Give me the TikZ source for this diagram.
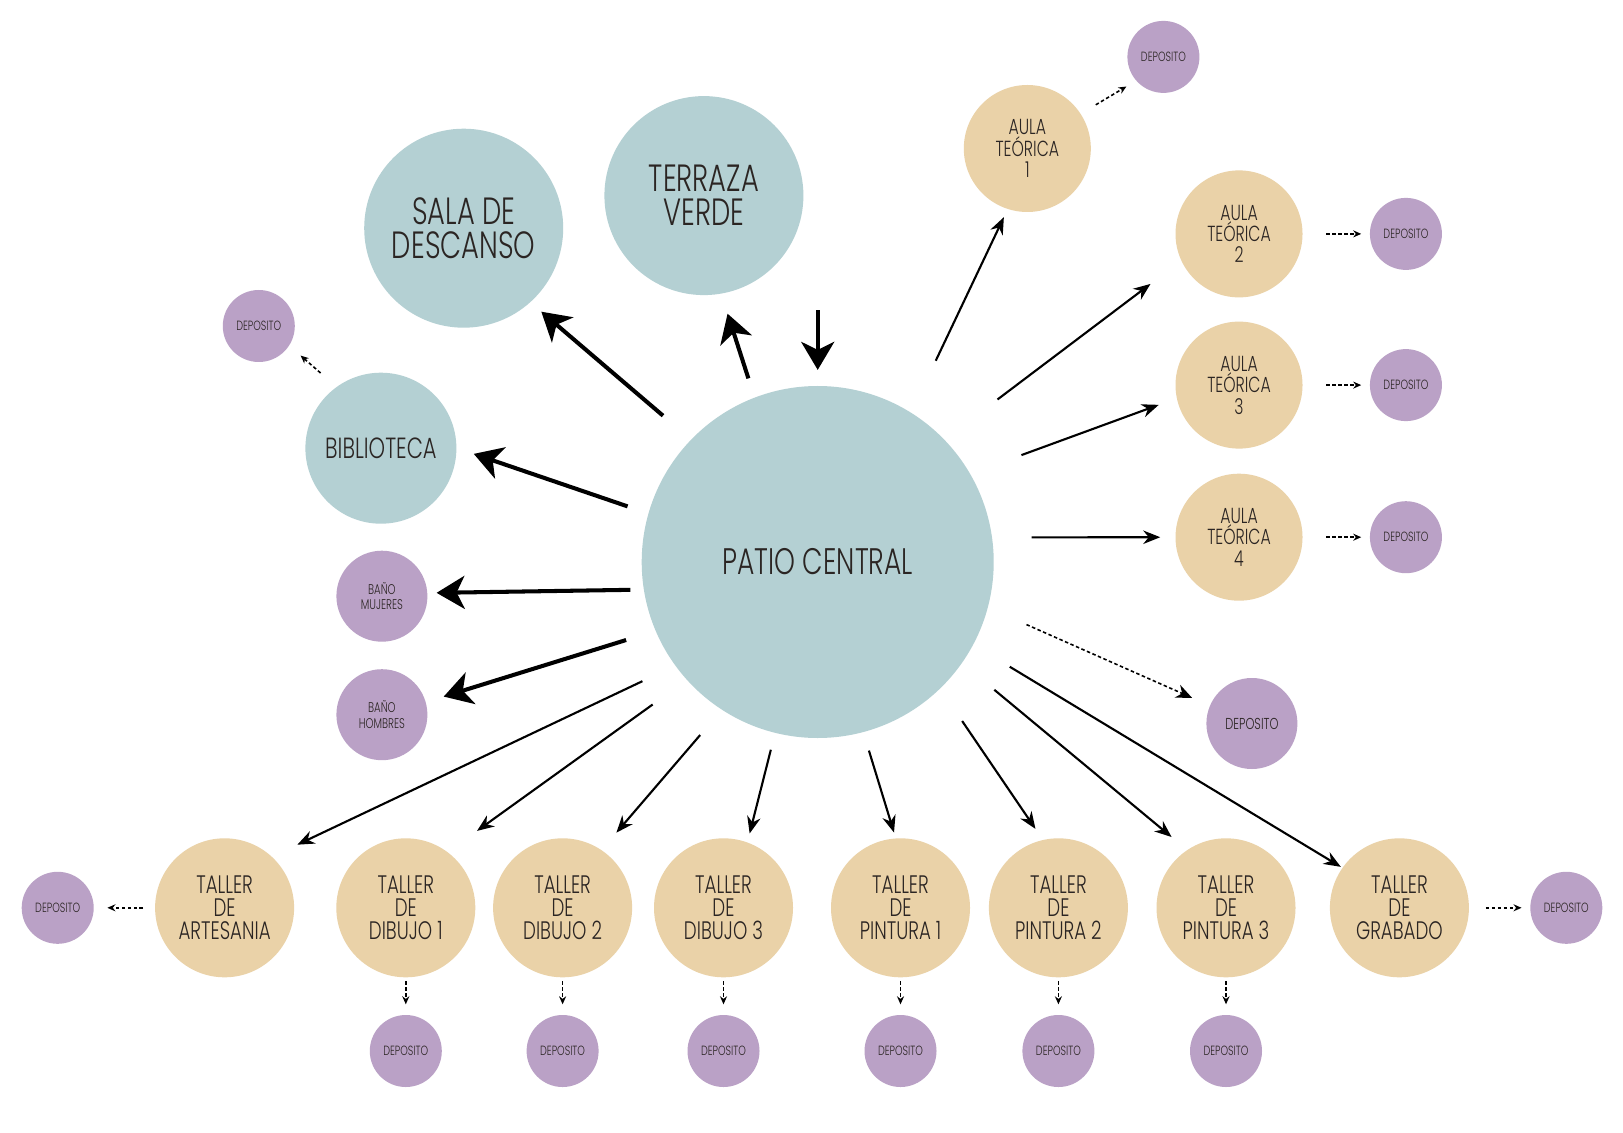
\documentclass[tikz,border=0pt]{standalone}
\usepackage{fontspec}
\setmainfont{Poppins}[FakeStretch=0.72, UprightFont=* Light]
\usepackage{tikz}
\usetikzlibrary{arrows.meta,positioning}
\definecolor{PatioTeal}{HTML}{B4D0D3}
\definecolor{PatioSand}{HTML}{EAD2A8}
\definecolor{PatioLilac}{HTML}{BAA1C6}
\definecolor{PatioInk}{HTML}{2B2523}

\begin{document}
\begin{tikzpicture}[
  every node/.style={text=PatioInk},
  espacio/.style={circle, fill=#1, inner sep=0pt, align=center},
  grande/.style={espacio=PatioTeal, minimum size=1.99cm, font=\fontsize{10.8}{9.7}\selectfont},
  aula/.style={espacio=PatioSand, minimum size=1.27cm, font=\fontsize{6.2}{6.1}\selectfont},
  taller/.style={espacio=PatioSand, minimum size=1.39cm, font=\fontsize{7.2}{6.6}\selectfont},
  deposito/.style={espacio=PatioLilac, minimum size=0.72cm, font=\fontsize{3.8}{4}\selectfont},
  bano/.style={espacio=PatioLilac, minimum size=0.91cm, font=\fontsize{4}{4.5}\selectfont},
  flecha/.style={-{Stealth[length=2.8mm, width=3.3mm, inset=0.8mm]}, line width=1.15pt},
  via/.style={-{Stealth[length=1.7mm, width=1.35mm]}, line width=0.6pt},
  guarda/.style={-{Stealth[length=0.8mm, width=0.7mm]}, line width=0.45pt, dash pattern=on 0.035cm off 0.025cm}
]
\fill[white] (0,0) rectangle (16.23,-11.32);

% centro
\node[espacio=PatioTeal, minimum size=3.52cm, font=\fontsize{10.5}{12}\selectfont] (patio) at (8.177,-5.620) {PATIO CENTRAL};
\coordinate (entrada) at (8.177,-3.105);

% lado izquierdo
\node[grande] (sala) at (4.637,-2.282) {SALA DE\\DESCANSO};
\node[grande] (terraza) at (7.039,-1.956) {TERRAZA\\VERDE};
\node[espacio=PatioTeal, minimum size=1.51cm, font=\fontsize{8.3}{8}\selectfont] (biblio) at (3.809,-4.482) {BIBLIOTECA};
\node[deposito] (depBiblio) at (2.588,-3.260) {DEPOSITO};
\node[bano] (banoM) at (3.819,-5.962) {BAÑO\\MUJERES};
\node[bano] (banoH) at (3.819,-7.147) {BAÑO\\HOMBRES};

% aulas
\node[aula] (aula1) at (10.273,-1.485) {AULA\\TEÓRICA\\1};
\node[deposito] (depAula1) at (11.634,-0.569) {DEPOSITO};
\node[aula] (aula2) at (12.390,-2.339) {AULA\\TEÓRICA\\2};
\node[deposito, right=0.66cm of aula2] (depAula2) {DEPOSITO};
\node[aula] (aula3) at (12.390,-3.851) {AULA\\TEÓRICA\\3};
\node[deposito, right=0.66cm of aula3] (depAula3) {DEPOSITO};
\node[aula] (aula4) at (12.390,-5.372) {AULA\\TEÓRICA\\4};
\node[deposito, right=0.66cm of aula4] (depAula4) {DEPOSITO};
\node[bano, font=\fontsize{4.5}{5}\selectfont] (depPatio) at (12.519,-7.235) {DEPOSITO};

% talleres
\node[taller] (artesania) at (2.246,-9.078) {TALLER\\DE\\ARTESANIA};
\node[taller] (dibujo1) at (4.058,-9.078) {TALLER\\DE\\DIBUJO 1};
\node[taller] (dibujo2) at (5.626,-9.078) {TALLER\\DE\\DIBUJO 2};
\node[taller] (dibujo3) at (7.235,-9.078) {TALLER\\DE\\DIBUJO 3};
\node[taller] (pintura1) at (9.005,-9.078) {TALLER\\DE\\PINTURA 1};
\node[taller] (pintura2) at (10.584,-9.078) {TALLER\\DE\\PINTURA 2};
\node[taller] (pintura3) at (12.260,-9.078) {TALLER\\DE\\PINTURA 3};
\node[taller] (grabado) at (13.994,-9.078) {TALLER\\DE\\GRABADO};
\node[deposito, left=0.60cm of artesania] (depArtesania) {DEPOSITO};
\node[deposito, right=0.60cm of grabado] (depGrabado) {DEPOSITO};
\node[deposito, below=0.363cm of dibujo1] (depDibujo1) {DEPOSITO};
\node[deposito, below=0.363cm of dibujo2] (depDibujo2) {DEPOSITO};
\node[deposito, below=0.363cm of dibujo3] (depDibujo3) {DEPOSITO};
\node[deposito, below=0.363cm of pintura1] (depPintura1) {DEPOSITO};
\node[deposito, below=0.363cm of pintura2] (depPintura2) {DEPOSITO};
\node[deposito, below=0.363cm of pintura3] (depPintura3) {DEPOSITO};

% flechas gruesas
\draw[flecha, shorten <=0.363cm, shorten >=0.139cm] (patio.136.6) -- (sala.-48.9);
\draw[flecha, shorten <=0.196cm, shorten >=0.204cm] (patio.111.4) -- (terraza.-80.1);
\draw[flecha, shorten >=0.154cm] (entrada) -- (patio.north);
\draw[flecha, shorten <=0.214cm, shorten >=0.176cm] (patio.164.8) -- (biblio.0);
\draw[flecha, shorten <=0.129cm, shorten >=0.086cm] (patio.189.85) -- (banoM.4.3);
\draw[flecha, shorten <=0.303cm, shorten >=0.182cm] (patio.203.4) -- (banoH.16.5);

% flechas finas
\draw[via, shorten <=0.358cm, shorten >=0.275cm] (patio.216.3) -- (artesania.47.6);
\draw[via, shorten <=0.416cm, shorten >=0.357cm] (patio.222.5) -- (dibujo1.53.1);
\draw[via, shorten <=0.327cm, shorten >=0.223cm] (patio.237) -- (dibujo2.56.8);
\draw[via, shorten <=0.168cm, shorten >=0.086cm] (patio.256.4) -- (dibujo3.70.6);
\draw[via, shorten <=0.187cm, shorten >=0.055cm] (patio.285.7) -- (pintura1.94);
\draw[via, shorten <=0.386cm, shorten >=0.127cm] (patio.314) -- (pintura2.103.5);
\draw[via, shorten <=0.414cm, shorten >=0.197cm] (patio.325.5) -- (pintura3.124.3);
\draw[via, shorten <=0.421cm, shorten >=0.013cm] (patio.332) -- (grabado.145.1);
\draw[via, shorten <=0.569cm, shorten >=0.084cm] (patio.58.1) -- (aula1.252.9);
\draw[via, shorten <=0.660cm, shorten >=0.380cm] (patio.44.8) -- (aula2.205.5);
\draw[via, shorten <=0.540cm, shorten >=0.186cm] (patio.30.3) -- (aula3.192.4);
\draw[via, shorten <=0.389cm, shorten >=0.146cm] (patio.8.1) -- (aula4.west);

% depositos
\draw[guarda, -{Stealth[length=1.6mm, width=1.4mm]}, shorten <=0.417cm, shorten >=0.19cm] (patio.-15.2) -- (depPatio.157.4);
\draw[guarda, shorten <=0.206cm, shorten >=0.146cm] (biblio.126.2) -- (depBiblio.-33.4);
\draw[guarda, shorten <=0.17cm, shorten >=0.108cm] (aula1.33) -- (depAula1.221.5);
\draw[guarda, shorten <=0.23cm, shorten >=0.08cm] (aula2.east) -- (depAula2.west);
\draw[guarda, shorten <=0.23cm, shorten >=0.08cm] (aula3.east) -- (depAula3.west);
\draw[guarda, shorten <=0.23cm, shorten >=0.08cm] (aula4.east) -- (depAula4.west);
\draw[guarda, shorten <=0.114cm, shorten >=0.13cm] (artesania.west) -- (depArtesania.east);
\draw[guarda, shorten <=0.163cm, shorten >=0.081cm] (grabado.east) -- (depGrabado.west);
\draw[guarda, shorten <=0.03cm, shorten >=0.10cm] (dibujo1.south) -- (depDibujo1.north);
\draw[guarda, shorten <=0.03cm, shorten >=0.10cm] (dibujo2.south) -- (depDibujo2.north);
\draw[guarda, shorten <=0.03cm, shorten >=0.10cm] (dibujo3.south) -- (depDibujo3.north);
\draw[guarda, shorten <=0.03cm, shorten >=0.10cm] (pintura1.south) -- (depPintura1.north);
\draw[guarda, shorten <=0.03cm, shorten >=0.10cm] (pintura2.south) -- (depPintura2.north);
\draw[guarda, shorten <=0.03cm, shorten >=0.10cm] (pintura3.south) -- (depPintura3.north);
\end{tikzpicture}
\end{document}
